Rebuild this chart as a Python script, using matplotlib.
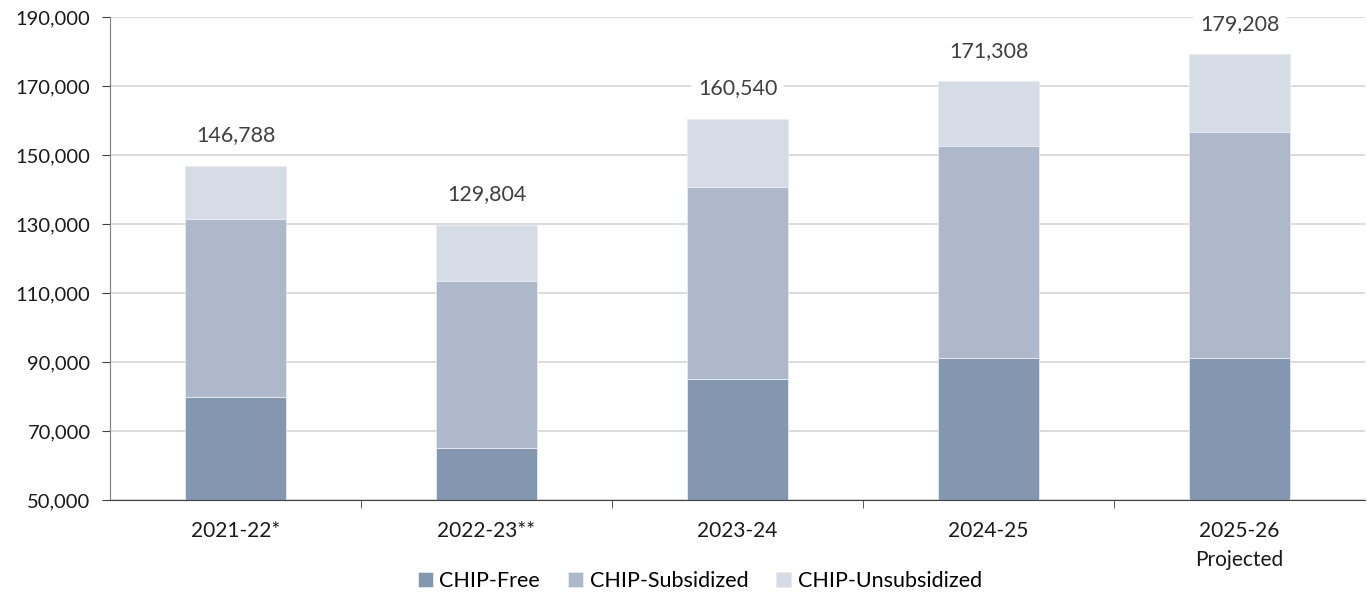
import matplotlib.pyplot as plt
import numpy as np
from matplotlib.ticker import FuncFormatter

# enrollment by year
years = ['2021-22*', '2022-23**', '2023-24', '2024-25', '2025-26\nProjected']
chip_free = [79800, 65200, 85200, 91200, 91200]
chip_subsidized = [51700, 48400, 55400, 61400, 65600]
chip_unsubsidized = [15288, 16204, 19940, 18708, 22408]
totals = [146788, 129804, 160540, 171308, 179208]

colors = ['#8497B0', '#ADB9CA', '#D6DCE5']
plt.rcParams['font.family'] = ['Lato', 'DejaVu Sans']

fig = plt.figure(figsize=(13.67, 5.95), dpi=100)
ax = fig.add_axes([110 / 1367, 95 / 595, 1255 / 1367, 483 / 595])

x = np.arange(len(years))
w = 0.40
free = np.array(chip_free)
sub = np.array(chip_subsidized)
unsub = np.array(chip_unsubsidized)

ax.bar(x, free, w, color=colors[0], label='CHIP-Free', edgecolor='#E8ECF2', linewidth=0.6, zorder=2)
ax.bar(x, sub, w, bottom=free, color=colors[1], label='CHIP-Subsidized', edgecolor='#E8ECF2', linewidth=0.6, zorder=2)
ax.bar(x, unsub, w, bottom=free + sub, color=colors[2], label='CHIP-Unsubsidized', edgecolor='#E8ECF2', linewidth=0.6, zorder=2)

# total labels above bars
for xi, t in zip(x, totals):
    ax.annotate(f'{t:,}', (xi, t), xytext=(0, 22), textcoords='offset points',
                ha='center', va='center', fontsize=15.5, color='#404040', zorder=4,
                bbox=dict(boxstyle='square,pad=0.3', fc='white', ec='none'))

ax.set_ylim(50000, 190000)
ax.set_xlim(-0.5, len(years) - 0.5)
ax.set_yticks(range(50000, 190001, 20000))
ax.yaxis.set_major_formatter(FuncFormatter(lambda v, p: f'{int(v):,}'))
ax.yaxis.grid(True, color='#D9D9D9', linewidth=1.3, zorder=0)
ax.set_axisbelow(True)

ax.set_xticks(x)
ax.set_xticklabels(years, fontsize=15, color='#1a1a1a', linespacing=1.55)
ax.set_xticks(np.arange(0.5, len(years) - 0.5, 1), minor=True)
ax.tick_params(axis='x', which='major', length=0, pad=15)
ax.tick_params(axis='x', which='minor', length=6, color='#404040')
ax.tick_params(axis='y', length=6, color='#404040', labelsize=14.5, labelcolor='#1a1a1a', pad=8)

for s in ['top', 'right']:
    ax.spines[s].set_visible(False)
ax.spines['left'].set_color('#7f7f7f')
ax.spines['bottom'].set_color('#404040')

fig.legend(loc='center', bbox_to_anchor=(700 / 1367, 1 - 581 / 595), ncol=3, frameon=False,
           fontsize=15.5, handlelength=0.7, handleheight=0.7, handletextpad=0.3,
           columnspacing=1.3, borderpad=0)

fig.savefig('out.png', dpi=100)
